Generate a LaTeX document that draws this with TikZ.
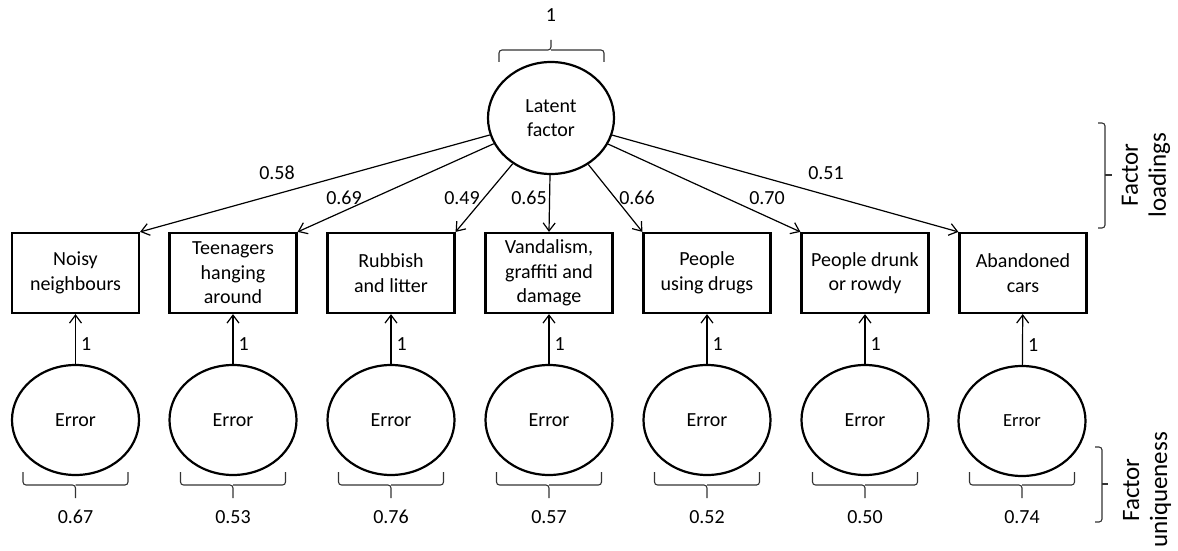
\documentclass[tikz,border=0pt]{standalone}
\usepackage{fontspec}
\setmainfont{Carlito}
\usetikzlibrary{shapes.geometric,arrows.meta}
\begin{document}
\begin{tikzpicture}[x=1pt,y=-1pt,
  lbl/.style={font=\fontsize{20}{24.5}\selectfont, inner sep=0pt},
  ind/.style={draw, line width=2.2pt, minimum width=127pt, minimum height=80pt, inner sep=0pt, align=center, font=\fontsize{20}{24.5}\selectfont},
  latnode/.style={draw, ellipse, line width=2.2pt, minimum width=126pt, minimum height=112pt, inner sep=0pt, align=center, font=\fontsize{20}{24.5}\selectfont},
  errnode/.style={draw, ellipse, line width=2.2pt, minimum width=127pt, minimum height=110pt, inner sep=0pt, align=center, font=\fontsize{20}{24.5}\selectfont},
  arr/.style={line width=1.2pt, -{Straight Barb[length=8pt,width=12pt,line width=1.2pt]}},
  brc/.style={line width=1.1pt, draw=black!80, rounded corners=3pt},
  side/.style={rotate=90, align=center, inner sep=0pt, font=\fontsize{25}{28}\selectfont},
]
\useasboundingbox (0,0) rectangle (1178,551);

% latent factor
\node[latnode] (lat) at (551,118) {Latent\\factor};
\draw[brc] (499,62) -- (499,50) -- (551,50) -- (551,40);
\draw[brc] (604,62) -- (604,50) -- (551,50);
\node[lbl] (lvar) at (551,15) {1};

% indicators
\node[ind] (b1) at (75.5,273) {Noisy\\neighbours};
\node[ind] (b2) at (233,273) {Teenagers\\hanging\\around};
\node[ind] (b3) at (391,273) {Rubbish\\and litter};
\node[ind] (b4) at (549,273) {Vandalism,\\graffiti and\\damage};
\node[ind] (b5) at (707,273) {People\\using drugs};
\node[ind] (b6) at (865,273) {People drunk\\or rowdy};
\node[ind] (b7) at (1023,273) {Abandoned\\cars};

% loadings
\draw[arr] (lat) -- (b1.north east);
\draw[arr] (lat) -- (b2.north east);
\draw[arr] (lat) -- (b3.north east);
\draw[arr] (lat) -- (b4.north);
\draw[arr] (lat) -- (b5.north west);
\draw[arr] (lat) -- (b6.north west);
\draw[arr] (lat) -- (b7.north west);
\node[lbl] (l1) at (277,173) {0.58};
\node[lbl] (l2) at (344,198) {0.69};
\node[lbl] (l3) at (462,198) {0.49};
\node[lbl] (l4) at (529,198) {0.65};
\node[lbl] (l5) at (637,198) {0.66};
\node[lbl] (l6) at (767,198) {0.70};
\node[lbl] (l7) at (826,173) {0.51};

% errors
\node[errnode] (e1) at (75.5,420) {Error};
\node[errnode] (e2) at (233,420) {Error};
\node[errnode] (e3) at (391,420) {Error};
\node[errnode] (e4) at (549,420) {Error};
\node[errnode] (e5) at (707,420) {Error};
\node[errnode] (e6) at (865,420) {Error};
\node[errnode, font=\fontsize{18.5}{22}\selectfont] (e7) at (1022,421) {Error};

\foreach \i in {1,...,7}{
  \draw[arr] (e\i) -- node[lbl, pos=0.4, right=5pt] (o\i) {1} (b\i);
}

% uniqueness braces
\foreach \i/\v in {1/0.67,2/0.53,3/0.76,4/0.57,5/0.52,6/0.50,7/0.74}{
  \path (e\i.center) ++(-52.5,0) coordinate (bl\i);
  \draw[brc] (e\i.center |- 0,472) ++(-52.5,0) -- ++(0,13) -- ++(52.5,0) -- ++(0,13);
  \draw[brc] (e\i.center |- 0,472) ++(52.5,0) -- ++(0,13) -- ++(-52.5,0);
  \node[lbl] (u\i) at (e\i.center |- 0,517) {\v};
}

% side brackets
\draw[brc] (1098,123) -- (1105,123) -- (1105,228) -- (1098,228);
\draw[brc] (1105,175) -- (1112,175);
\node[side] (fl) at (1146,175) {Factor\\loadings};
\draw[brc] (1095,447) -- (1102,447) -- (1102,522) -- (1095,522);
\draw[brc] (1102,484) -- (1108,484);
\node[side] (fu) at (1147,490) {Factor\\uniqueness};
\end{tikzpicture}
\end{document}
